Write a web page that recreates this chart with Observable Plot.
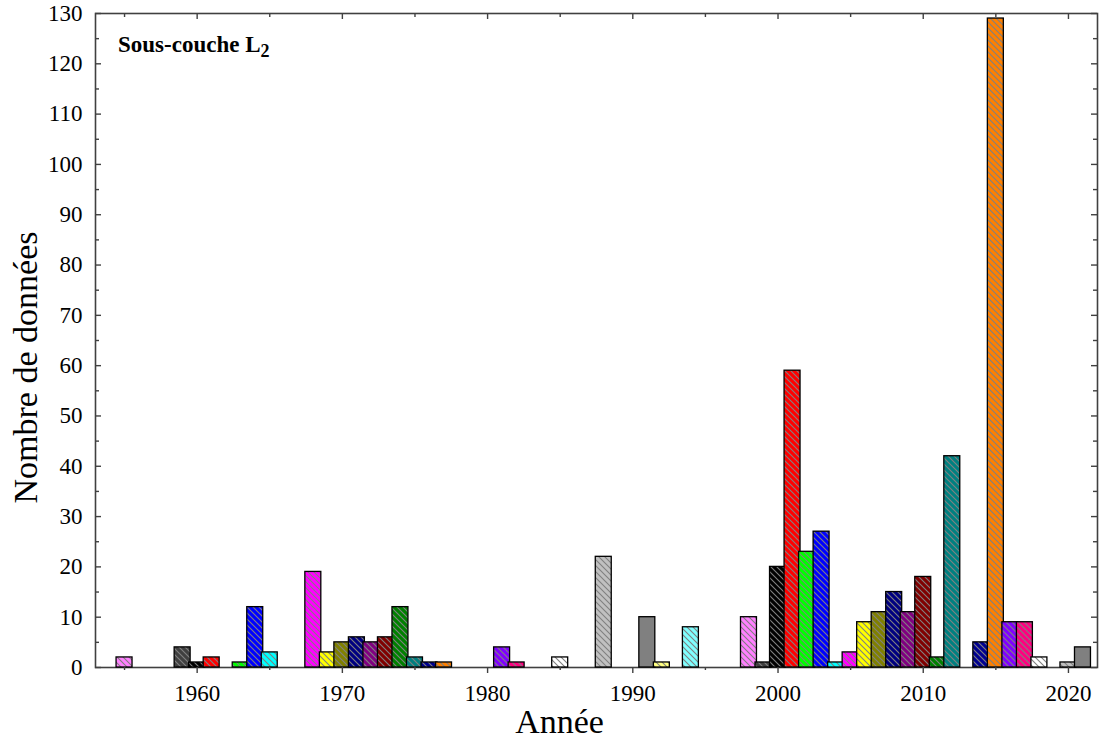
<!DOCTYPE html>
<html>
<head>
<meta charset="utf-8">
<script src="https://cdn.jsdelivr.net/npm/d3@7"></script>
<script src="https://cdn.jsdelivr.net/npm/@observablehq/plot@0.6"></script>
<style>
  html, body { margin: 0; padding: 0; background: #fff; }
  #chart svg { display: block; }
</style>
</head>
<body>
<div id="chart"></div>
<script>
// ---- Data ----
const years  = [1955,1959,1960,1961,1963,1964,1965,
                1968,1969,1970,1971,1972,1973,1974,1975,1976,1977,
                1981,1982,1985,1988,1991,1992,1994,
                1998,1999,2000,2001,2002,2003,2004,2005,2006,2007,2008,2009,2010,2011,2012,
                2014,2015,2016,2017,2018,2020,2021];
const counts = [2,4,1,2,1,12,3,
                19,3,5,6,5,6,12,2,1,1,
                4,1,2,22,10,1,8,
                10,1,20,59,23,27,1,3,9,11,15,11,18,2,42,
                5,129,9,9,2,1,4];
// colour cycle (repeats every 24 bars)
const palette = ["#ff80ff","#404040","#000000","#ff0000","#00ff00","#0000ff","#00ffff","#ff00ff",
                 "#ffff00","#808000","#000080","#800080","#800000","#008000","#008080","#000090",
                 "#ff8000","#8000ff","#ff0080","#ffffff","#c0c0c0","#808080","#ffff80","#80ffff"];
const xMajorTicks = [1960,1970,1980,1990,2000,2010,2020];
const xMinorTicks = [1955,1965,1975,1985,1995,2005,2015];
const yMajorTicks = [0,10,20,30,40,50,60,70,80,90,100,110,120,130];
const yMinorTicks = [5,15,25,35,45,55,65,75,85,95,105,115,125];
const xTitle = "Année";
const yTitle = "Nombre de données";
const panelTitle = "Sous-couche L";
const panelSub = "2";

const data = years.map((year, i) => ({year, count: counts[i], ci: i % palette.length}));

// ---- Layout ----
const W = 1102, H = 744;
const mL = 95, mR = 5, mT = 13, mB = 77;
const pw = W - mL - mR, ph = H - mT - mB;
const half = 0.55; // half bar width in years

const font = "'Liberation Serif', 'Times New Roman', serif";

const svg = Plot.plot({
  width: W, height: H,
  marginLeft: mL, marginRight: mR, marginTop: mT, marginBottom: mB,
  x: {domain: [1953, 2022]},
  y: {domain: [0, 130]},
  color: {type: "identity"},
  style: {fontFamily: font, fontSize: "22px", background: "white", color: "black"},
  marks: [
    Plot.frame({stroke: "#404040", strokeWidth: 1.6}),
    Plot.rectY(data, {
      x1: d => d.year - half, x2: d => d.year + half,
      y1: 0, y2: "count",
      fill: d => `url(#hatch${d.ci})`,
      stroke: "black", strokeWidth: 1.3
    }),
    // bottom ticks (outward)
    Plot.tickX(xMajorTicks, {x: d => d, insetTop: ph, insetBottom: -6, stroke: "#404040", strokeWidth: 1.4}),
    Plot.tickX(xMinorTicks, {x: d => d, insetTop: ph, insetBottom: -3, stroke: "#404040", strokeWidth: 1.4}),
    // top ticks (inward)
    Plot.tickX(xMajorTicks, {x: d => d, insetBottom: ph - 6, stroke: "#404040", strokeWidth: 1.4}),
    Plot.tickX(xMinorTicks, {x: d => d, insetBottom: ph - 4, stroke: "#404040", strokeWidth: 1.4}),
    // left ticks (inward)
    Plot.tickY(yMajorTicks, {y: d => d, insetRight: pw - 6, stroke: "#404040", strokeWidth: 1.4}),
    Plot.tickY(yMinorTicks, {y: d => d, insetRight: pw - 4, stroke: "#404040", strokeWidth: 1.4}),
    // right ticks (inward)
    Plot.tickY(yMajorTicks, {y: d => d, insetLeft: pw - 6, stroke: "#404040", strokeWidth: 1.4}),
    Plot.tickY(yMinorTicks, {y: d => d, insetLeft: pw - 4, stroke: "#404040", strokeWidth: 1.4}),
    // tick labels
    Plot.axisX(xMajorTicks, {tickSize: 0, tickPadding: 17, fontSize: 23, tickFormat: d => String(d), label: null}),
    Plot.axisY(yMajorTicks, {tickSize: 0, tickPadding: 13, fontSize: 23, tickFormat: d => String(d), label: null}),
    // axis titles
    Plot.text([yTitle], {frameAnchor: "left", rotate: -90, dx: -69, dy: 27, fontSize: 34, textAnchor: "middle", fill: "black"}),
    Plot.text([xTitle], {frameAnchor: "bottom", dx: -37, dy: 65, fontSize: 34, textAnchor: "middle", fill: "black"})
  ]
});

// hatch patterns (one per colour)
const defs = d3.select(svg).insert("defs", ":first-child");
palette.forEach((c, i) => {
  const p = defs.append("pattern")
    .attr("id", "hatch" + i)
    .attr("patternUnits", "userSpaceOnUse")
    .attr("width", 6).attr("height", 6);
  p.append("rect").attr("width", 6).attr("height", 6).attr("fill", c);
  p.append("path")
    .attr("d", "M-1,-1L7,7M-1,5L1,7M5,-1L7,1")
    .attr("stroke", "#808080").attr("stroke-width", 1.1).attr("fill", "none");
});

// panel title with subscript
const t = d3.select(svg).append("text")
  .attr("x", 118).attr("y", 52)
  .attr("text-anchor", "start")
  .attr("font-family", font).attr("font-size", 23).attr("font-weight", "bold")
  .attr("fill", "black");
t.append("tspan").text(panelTitle);
t.append("tspan").attr("dy", 5).attr("font-size", 18).text(panelSub);

document.getElementById("chart").appendChild(svg);
</script>
</body>
</html>
